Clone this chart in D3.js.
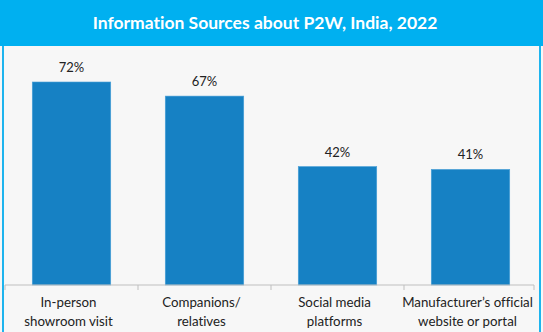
<!DOCTYPE html>
<html>
<head>
<meta charset="utf-8">
<script src="https://cdn.jsdelivr.net/npm/d3@7"></script>
<style>
  body { margin: 0; background: #fff; }
  svg { display: block; font-family: Lato, "Open Sans", sans-serif; font-variant-ligatures: none; }
</style>
</head>
<body>
<svg id="chart" width="543" height="332"></svg>
<script>
const title = "Information Sources about P2W, India, 2022";
const categories = [
  ["In-person", "showroom visit"],
  ["Companions/", "relatives"],
  ["Social media", "platforms"],
  ["Manufacturer\u2019s official", "website or portal"],
];
const shares = [72, 67, 42, 41];

const svg = d3.select("#chart");
const width = 543;
const height = 332;
const baseline = 285;

// panel background + frame
svg.append("rect").attr("width", width).attr("height", height).attr("fill", "#f7f7f7");
svg.append("rect").attr("x", 2).attr("y", 0).attr("width", 2).attr("height", height).attr("fill", "#1eb4ee");
svg.append("rect").attr("x", 539).attr("y", 0).attr("width", 2).attr("height", height).attr("fill", "#1eb4ee");

// title bar
svg.append("rect").attr("width", width).attr("height", 46).attr("fill", "#00b0f0");
svg.append("text")
  .attr("x", 265)
  .attr("y", 29)
  .attr("text-anchor", "middle")
  .attr("fill", "#fff")
  .attr("font-weight", "bold")
  .attr("font-size", 17.5)
  .text(title);

const x = d3.scaleBand()
  .domain(d3.range(categories.length))
  .range([5, 537])
  .paddingInner(0.41)
  .paddingOuter(0.205);

const y = d3.scaleLinear().domain([0, 72]).range([baseline, 82]);

svg.selectAll(".bar")
  .data(shares)
  .enter()
  .append("rect")
  .attr("class", "bar")
  .attr("x", (d, i) => x(i))
  .attr("y", (d) => y(d))
  .attr("width", x.bandwidth())
  .attr("height", (d) => baseline - y(d))
  .attr("fill", "#1681c4")
  .attr("stroke", "#4aa0d8")
  .attr("stroke-width", 0.6);

svg.selectAll(".val")
  .data(shares)
  .enter()
  .append("text")
  .attr("class", "val")
  .attr("x", (d, i) => x(i) + x.bandwidth() / 2)
  .attr("y", (d) => y(d) - 10)
  .attr("text-anchor", "middle")
  .attr("font-size", 13)
  .attr("fill", "#222")
  .text((d) => d + "%");

// category axis: ticks sit between the bands
const axisScale = d3.scaleLinear().domain([0, categories.length]).range([5, 537]);
const axis = svg.append("g").attr("transform", `translate(0, ${baseline})`);
axis.append("line")
  .attr("x1", axisScale(0)).attr("x2", axisScale(categories.length) - 3)
  .attr("stroke", "#bfbfbf").attr("stroke-width", 1);
axis.selectAll(".tick")
  .data(d3.range(categories.length + 1))
  .enter()
  .append("line")
  .attr("x1", (d) => Math.min(axisScale(d), 534))
  .attr("x2", (d) => Math.min(axisScale(d), 534))
  .attr("y1", 0)
  .attr("y2", 5)
  .attr("stroke", "#bfbfbf");

const labels = svg.selectAll(".cat")
  .data(categories)
  .enter()
  .append("text")
  .attr("class", "cat")
  .attr("text-anchor", "middle")
  .attr("font-size", 13.3)
  .attr("fill", "#222");
labels.selectAll("tspan")
  .data((d, i) => d.map((line) => ({ line, i })))
  .enter()
  .append("tspan")
  .attr("x", (d) => x(d.i) + x.bandwidth() / 2 - 3)
  .attr("y", (d, j) => 307 + j * 19)
  .text((d) => d.line);
</script>
</body>
</html>
